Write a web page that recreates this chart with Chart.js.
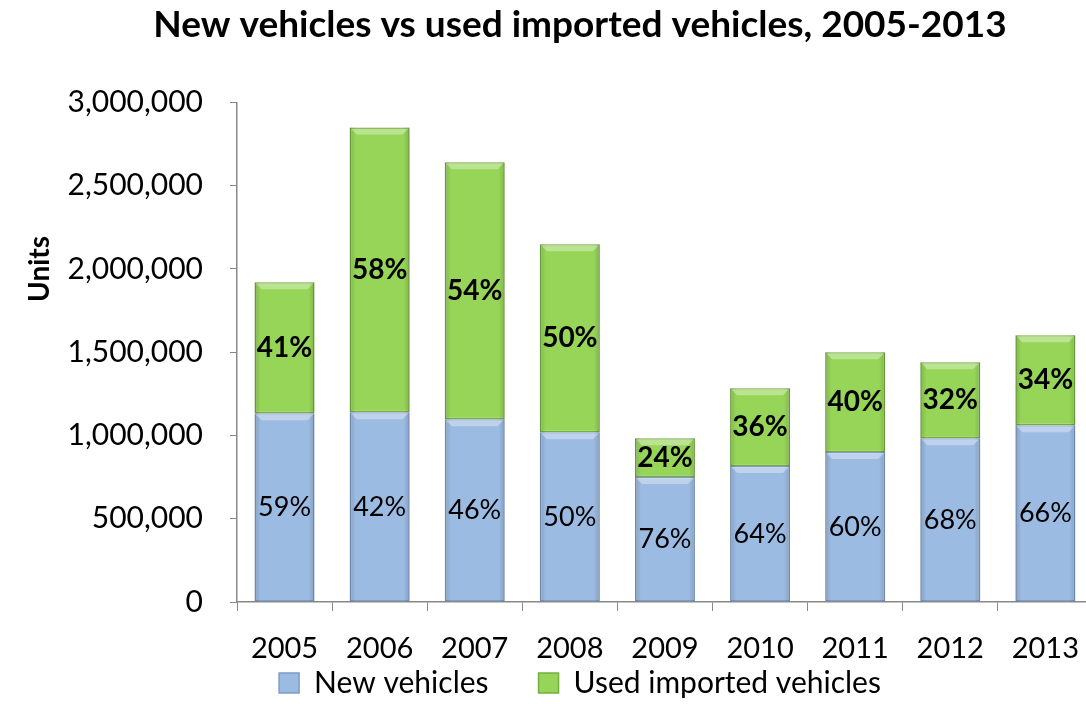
<!DOCTYPE html>
<html>
<head>
<meta charset="utf-8">
<script src="https://cdn.jsdelivr.net/npm/chart.js@4.4.1/dist/chart.umd.min.js"></script>
<style>
html,body{margin:0;padding:0;background:#fff;overflow:hidden;width:1086px;height:727px;}
#wrap{position:absolute;left:0;top:0;width:1099px;height:727px;}
</style>
</head>
<body>
<div id="wrap"><canvas id="c" width="1099" height="727"></canvas></div>
<script>
const years = ['2005','2006','2007','2008','2009','2010','2011','2012','2013'];
const newVehicles  = [1134000, 1140000, 1098000, 1020000, 750000, 816000, 900000, 984000, 1062000];
const usedImported = [786000, 1710000, 1542000, 1128000, 234000, 468000, 600000, 456000, 540000];
const newPctLabels  = ['59%','42%','46%','50%','76%','64%','60%','68%','66%'];
const usedPctLabels = ['41%','58%','54%','50%','24%','36%','40%','32%','34%'];
const yTicks = [0, 500000, 1000000, 1500000, 2000000, 2500000, 3000000];
const yAxisTitle = 'Units';

const FONT = 'Lato, "Open Sans", sans-serif';

// let x tick labels draw outside the (short) x-axis box
const unclip = {
  id: 'unclip',
  afterLayout(chart) {
    chart.scales.x._computeLabelArea = function () { return undefined; };
  }
};

// bevel-like shading over each bar segment (geometry read from the chart's elements)
const bevel = {
  id: 'bevel',
  afterDatasetsDraw(chart) {
    const ctx = chart.ctx;
    ctx.save();
    chart.data.datasets.forEach((ds, di) => {
      const meta = chart.getDatasetMeta(di);
      meta.data.forEach(el => {
        const p = el.getProps(['x', 'y', 'base', 'width'], true);
        const l = p.x - p.width / 2, r = p.x + p.width / 2;
        const t = Math.min(p.y, p.base), b = Math.max(p.y, p.base);
        const e = 7;
        const g = ctx.createLinearGradient(l, 0, r, 0);
        g.addColorStop(0, 'rgba(0,0,0,0.15)');
        g.addColorStop(0.1, 'rgba(0,0,0,0.0)');
        g.addColorStop(0.9, 'rgba(0,0,0,0.0)');
        g.addColorStop(1, 'rgba(0,0,0,0.15)');
        ctx.fillStyle = g;
        ctx.fillRect(l, t, r - l, b - t);
        ctx.beginPath();
        ctx.moveTo(l + 1, t + 1);
        ctx.lineTo(r - 1, t + 1);
        ctx.lineTo(r - e, t + e);
        ctx.lineTo(l + e, t + e);
        ctx.closePath();
        ctx.fillStyle = 'rgba(255,255,255,0.35)';
        ctx.fill();
      });
    });
    ctx.restore();
  }
};

const segLabels = {
  id: 'segLabels',
  afterDatasetsDraw(chart) {
    const ctx = chart.ctx;
    const sets = [
      {idx: 0, labels: newPctLabels, font: 'normal 27px '},
      {idx: 1, labels: usedPctLabels, font: 'bold 28px '}
    ];
    ctx.save();
    ctx.fillStyle = '#000';
    ctx.textAlign = 'center';
    ctx.textBaseline = 'middle';
    sets.forEach(s => {
      const meta = chart.getDatasetMeta(s.idx);
      ctx.font = s.font + FONT;
      meta.data.forEach((el, i) => {
        const y = (el.y + el.base) / 2;
        ctx.fillText(s.labels[i], el.x, y);
      });
    });
    ctx.restore();
  }
};

// y-axis title placed where the original has it (upper part of the axis)
const yTitle = {
  id: 'yTitle',
  afterDraw(chart) {
    const ctx = chart.ctx;
    const ys = chart.scales.y;
    const cy = ys.getPixelForValue(2000000);
    ctx.save();
    ctx.translate(40, cy);
    ctx.rotate(-Math.PI / 2);
    ctx.font = 'bold 28px ' + FONT;
    ctx.fillStyle = '#000';
    ctx.textAlign = 'center';
    ctx.textBaseline = 'middle';
    ctx.fillText(yAxisTitle, 0, 0);
    ctx.restore();
  }
};

new Chart(document.getElementById('c'), {
  type: 'bar',
  data: {
    labels: years,
    datasets: [
      {
        label: 'New vehicles',
        data: newVehicles,
        backgroundColor: '#9cbbe2',
        borderColor: '#7f9cc6',
        borderWidth: 1.5,
        borderSkipped: false
      },
      {
        label: 'Used imported vehicles',
        data: usedImported,
        backgroundColor: '#96d558',
        borderColor: '#76ad3e',
        borderWidth: 1.5,
        borderSkipped: false
      }
    ]
  },
  options: {
    responsive: false,
    animation: false,
    devicePixelRatio: 1,
    layout: { padding: { left: 61, right: 0, top: 0, bottom: 19 } },
    datasets: { bar: { categoryPercentage: 1.0, barPercentage: 0.63 } },
    plugins: {
      title: {
        display: true,
        text: 'New vehicles vs used imported vehicles, 2005-2013',
        color: '#000',
        font: { family: FONT, size: 37, weight: 'bold', lineHeight: 1.2 },
        padding: { top: 3, bottom: 55 }
      },
      legend: {
        position: 'bottom',
        labels: {
          color: '#000',
          font: { family: FONT, size: 30 },
          boxWidth: 20,
          boxHeight: 20,
          padding: 50
        }
      },
      tooltip: { enabled: false }
    },
    scales: {
      x: {
        stacked: true,
        grid: { drawOnChartArea: false, color: '#888', tickLength: 9, offset: true },
        border: { color: '#888', width: 1.5 },
        ticks: { color: '#000', font: { family: FONT, size: 29 }, padding: 20 },
        afterFit(scale) { scale.height = 16; }
      },
      y: {
        stacked: true,
        min: 0,
        max: 3000000,
        afterBuildTicks(scale) { scale.ticks = yTicks.map(v => ({ value: v })); },
        grid: { drawOnChartArea: false, color: '#888', tickLength: 7 },
        border: { color: '#888', width: 1.5 },
        ticks: {
          color: '#000',
          font: { family: FONT, size: 30 },
          padding: 27,
          callback: v => Number(v).toLocaleString('en-US')
        },
        afterFit(scale) { scale.width = 176; }
      }
    }
  },
  plugins: [unclip, bevel, segLabels, yTitle]
});
</script>
</body>
</html>
